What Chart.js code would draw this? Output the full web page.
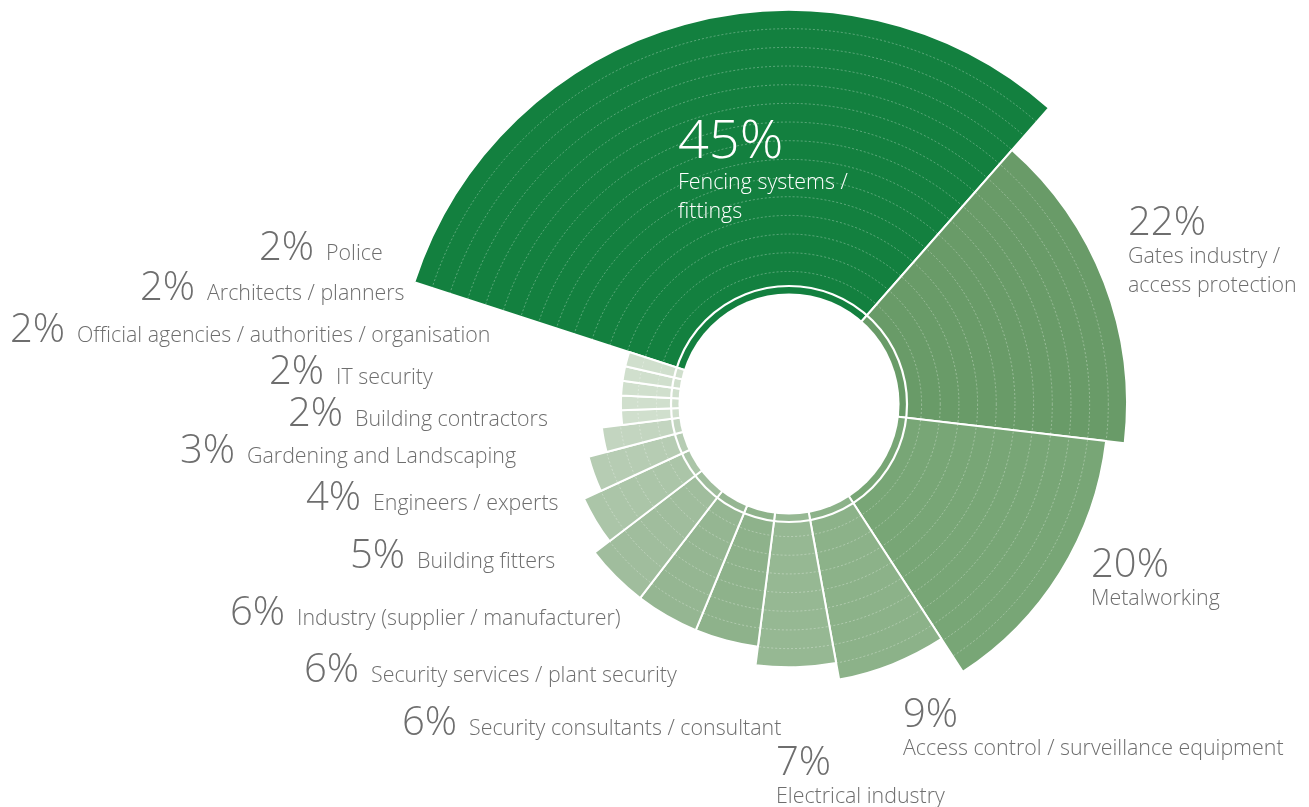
<!DOCTYPE html>
<html>
<head>
<meta charset="utf-8">
<script src="https://cdn.jsdelivr.net/npm/chart.js@4/dist/chart.umd.min.js"></script>
<style>
  html, body { margin: 0; padding: 0; background: #fff; }
  #wrap { position: relative; width: 1309px; height: 807px; }
</style>
</head>
<body>
<div id="wrap"><canvas id="myChart" width="1309" height="807"></canvas></div>
<script>
// Datos del gráfico
const categorias = [
  ['Fencing systems /', 'fittings'],
  ['Gates industry /', 'access protection'],
  ['Metalworking'],
  ['Access control / surveillance equipment'],
  ['Electrical industry'],
  ['Security consultants / consultant'],
  ['Security services / plant security'],
  ['Industry (supplier / manufacturer)'],
  ['Building fitters'],
  ['Engineers / experts'],
  ['Gardening and Landscaping'],
  ['Building contractors'],
  ['IT security'],
  ['Official agencies / authorities / organisation'],
  ['Architects / planners'],
  ['Police']
];
const porcentajes = [45, 22, 20, 9, 7, 6, 6, 6, 5, 4, 3, 2, 2, 2, 2, 2];
// número de anillos (alto de cada sector)
const niveles = [15, 12, 11, 8.9, 8, 7, 7, 7, 6, 5, 4, 2.9, 2.9, 2.9, 2.9, 2.9];

const colores = ['#13803f', '#699b68', '#78a676', '#8cb289', '#96b893', '#8eb28b', '#95b692',
  '#a0bd9d', '#abc5a8', '#b6ccb3', '#c3d5c0', '#d0dfcd', '#d0dfcd', '#d0dfcd', '#d0dfcd', '#d0dfcd'];

// posición de las etiquetas: [x, línea base, modo]
const posEtiquetas = [
  [678, 158, 'dentro'],
  [1128, 235, 'derecha'],
  [1091, 577, 'derecha'],
  [903, 727, 'derecha'],
  [776, 775, 'derecha'],
  [469, 735, 'fila'],
  [371, 682, 'fila'],
  [297, 625, 'fila'],
  [417, 568, 'fila'],
  [373, 510, 'fila'],
  [247, 463, 'fila'],
  [355, 426, 'fila'],
  [336, 384, 'fila'],
  [77, 342, 'fila'],
  [207, 300, 'fila'],
  [326, 260, 'fila']
];

const fuente = "'Open Sans', 'Noto Sans', sans-serif";
const gris = '#6e6e6e';
const total = porcentajes.reduce((a, b) => a + b, 0);

// círculo blanco central y anillo separador
const agujero = {
  id: 'agujero',
  afterDatasetsDraw(chart) {
    const s = chart.scales.r;
    const ctx = chart.ctx;
    ctx.save();
    ctx.fillStyle = '#fff';
    ctx.beginPath();
    ctx.arc(s.xCenter, s.yCenter, s.getDistanceFromCenterForValue(-0.18), 0, Math.PI * 2);
    ctx.fill();
    ctx.strokeStyle = '#fff';
    ctx.lineWidth = 2.2;
    ctx.beginPath();
    ctx.arc(s.xCenter, s.yCenter, s.getDistanceFromCenterForValue(0.22), 0, Math.PI * 2);
    ctx.stroke();
    ctx.restore();
  }
};

// textos de porcentaje y categoría
const etiquetas = {
  id: 'etiquetas',
  afterDraw(chart) {
    const ctx = chart.ctx;
    ctx.save();
    ctx.textBaseline = 'alphabetic';
    categorias.forEach((lineas, i) => {
      const [x, y, modo] = posEtiquetas[i];
      const pct = porcentajes[i] + '%';
      if (modo === 'fila') {
        ctx.fillStyle = gris;
        ctx.textAlign = 'right';
        ctx.font = '300 40px ' + fuente;
        ctx.fillText(pct, x - 12, y);
        ctx.textAlign = 'left';
        ctx.font = '300 21.4px ' + fuente;
        ctx.fillText(lineas[0], x, y);
      } else {
        const dentro = modo === 'dentro';
        ctx.fillStyle = dentro ? '#fff' : gris;
        ctx.textAlign = 'left';
        ctx.font = '300 ' + (dentro ? 54 : 40) + 'px ' + fuente;
        ctx.fillText(pct, x, y);
        ctx.font = '300 21.4px ' + fuente;
        lineas.forEach((l, k) => ctx.fillText(l, x, y + (dentro ? 31 : 28) + k * 29));
      }
    });
    ctx.restore();
  }
};

const ctx = document.getElementById('myChart');

new Chart(ctx, {
  type: 'polarArea',
  data: {
    labels: categorias.map(c => c.join(' ')),
    datasets: [{
      data: niveles,
      backgroundColor: colores,
      borderColor: '#fff',
      borderWidth: 2,
      angle: (c) => porcentajes[c.dataIndex] * 360 / total
    }]
  },
  options: {
    responsive: false,
    animation: false,
    events: [],
    layout: { padding: { left: 395, right: 125, top: 10, bottom: 8 } },
    plugins: { legend: { display: false }, tooltip: { enabled: false } },
    scales: {
      r: {
        min: -6.1,
        max: 15,
        startAngle: 288,
        ticks: { display: false, stepSize: 1, maxTicksLimit: 40 },
        grid: {
          z: 1,
          circular: true,
          lineWidth: 1,
          color: (c) => (c.tick && c.tick.value > 0.5 && c.tick.value < 14.5) ? 'rgba(255,255,255,0.3)' : 'rgba(0,0,0,0)'
        },
        border: { dash: [2, 2] },
        angleLines: { display: false },
        pointLabels: { display: false }
      }
    }
  },
  plugins: [agujero, etiquetas]
});
</script>
</body>
</html>
